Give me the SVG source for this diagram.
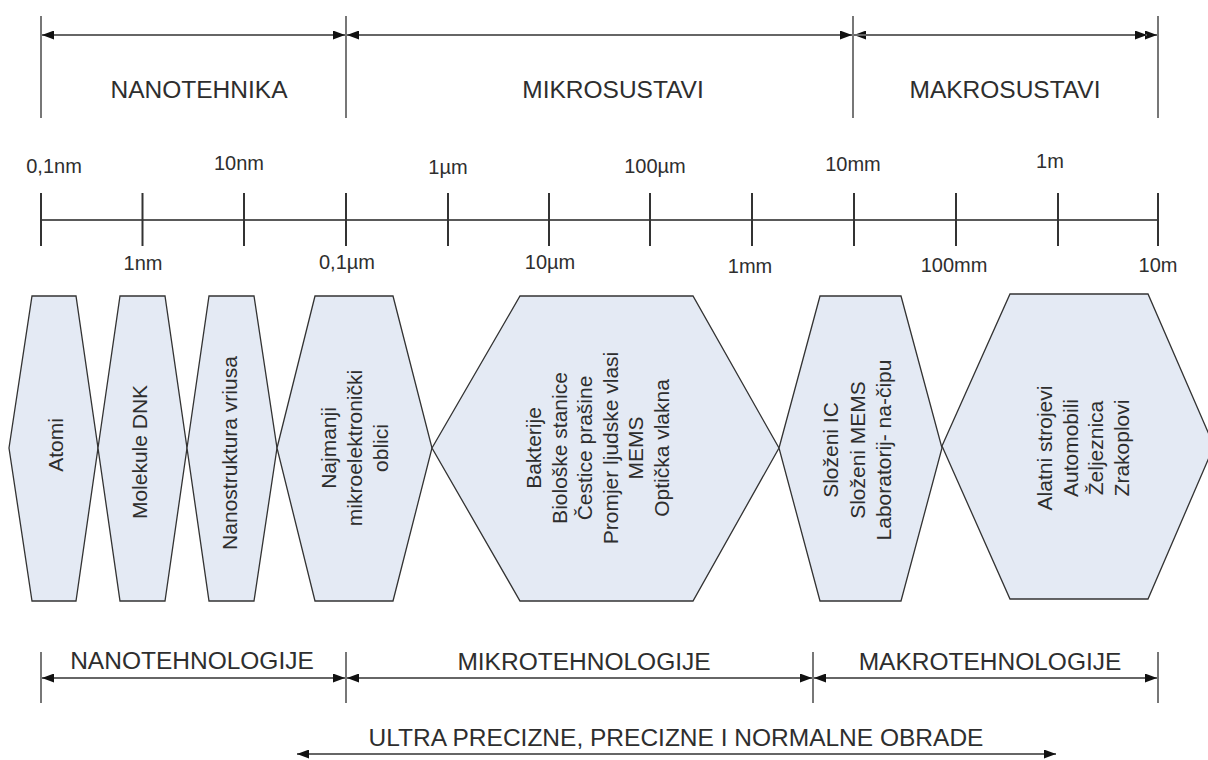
<svg xmlns="http://www.w3.org/2000/svg" width="1208" height="760" viewBox="0 0 1208 760">
<style>
  text { font-family: "Liberation Sans", Arial, sans-serif; fill: #2e2e2e; }
  .sec { font-size: 24.5px; text-anchor: middle; }
  .sc { font-size: 20px; text-anchor: middle; }
  .hx { font-size: 21px; text-anchor: middle; }
  .hex { fill: #e4eaf4; stroke: #333; stroke-width: 1.3; stroke-linejoin: miter; }
  .bar { stroke: #777; stroke-width: 2; }
  .arr { stroke: #666; stroke-width: 2.2; fill: none; marker-start: url(#ah); marker-end: url(#ah); }
  .axis { stroke: #222; stroke-width: 1.6; }
  .tick { stroke: #333; stroke-width: 2; }
</style>
<defs>
  <marker id="ah" viewBox="0 0 12 9" refX="12" refY="4.5" markerWidth="12" markerHeight="9" markerUnits="userSpaceOnUse" orient="auto-start-reverse">
    <path d="M0,0 L12,4.5 L0,9 z" fill="#111"/>
  </marker>
</defs>
<rect width="1208" height="760" fill="#fff"/>

<!-- top section dividers -->
<g id="top-bars">
  <line class="bar" x1="41" y1="16" x2="41" y2="118"/>
  <line class="bar" x1="346" y1="16" x2="346" y2="118"/>
  <line class="bar" x1="853" y1="16" x2="853" y2="118"/>
  <line class="bar" x1="1158" y1="16" x2="1158" y2="118"/>
</g>
<g id="bottom-bars">
  <line class="bar" x1="41" y1="652" x2="41" y2="703"/>
  <line class="bar" x1="346" y1="652" x2="346" y2="703"/>
  <line class="bar" x1="813" y1="652" x2="813" y2="703"/>
  <line class="bar" x1="1158" y1="652" x2="1158" y2="703"/>
</g>

<g id="connectors">
  <line class="arr" x1="42" y1="35" x2="345" y2="35"/>
  <line class="arr" x1="347" y1="35" x2="852" y2="35"/>
  <line class="arr" x1="854" y1="35" x2="1157" y2="35"/>
  <line class="arr" x1="854" y1="35" x2="1147" y2="35" style="marker-start:none"/>
  <line class="arr" x1="42" y1="678" x2="345" y2="678"/>
  <line class="arr" x1="347" y1="678" x2="812" y2="678"/>
  <line class="arr" x1="814" y1="678" x2="1157" y2="678"/>
  <line class="arr" x1="297" y1="754" x2="1056" y2="754"/>
</g>

<g id="section-labels">
  <text class="sec" x="199" y="98">NANOTEHNIKA</text>
  <text class="sec" x="613" y="98">MIKROSUSTAVI</text>
  <text class="sec" x="1005" y="98">MAKROSUSTAVI</text>
  <text class="sec" x="192" y="669">NANOTEHNOLOGIJE</text>
  <text class="sec" x="584" y="670">MIKROTEHNOLOGIJE</text>
  <text class="sec" x="990" y="670">MAKROTEHNOLOGIJE</text>
  <text class="sec" x="676" y="746">ULTRA PRECIZNE, PRECIZNE I NORMALNE OBRADE</text>
</g>

<g id="scale">
  <line class="axis" x1="41" y1="220" x2="1158" y2="220"/>
  <line class="tick" x1="41" y1="193" x2="41" y2="246"/>
  <line class="tick" x1="142.5" y1="193" x2="142.5" y2="246"/>
  <line class="tick" x1="244" y1="193" x2="244" y2="246"/>
  <line class="tick" x1="346" y1="193" x2="346" y2="246"/>
  <line class="tick" x1="448" y1="193" x2="448" y2="246"/>
  <line class="tick" x1="549" y1="193" x2="549" y2="246"/>
  <line class="tick" x1="650" y1="193" x2="650" y2="246"/>
  <line class="tick" x1="752" y1="193" x2="752" y2="246"/>
  <line class="tick" x1="854" y1="193" x2="854" y2="246"/>
  <line class="tick" x1="956" y1="193" x2="956" y2="246"/>
  <line class="tick" x1="1058" y1="193" x2="1058" y2="246"/>
  <line class="tick" x1="1158" y1="193" x2="1158" y2="246"/>
  <text class="sc" x="54" y="173">0,1nm</text>
  <text class="sc" x="239" y="170">10nm</text>
  <text class="sc" x="448" y="174">1µm</text>
  <text class="sc" x="655" y="173">100µm</text>
  <text class="sc" x="853" y="171">10mm</text>
  <text class="sc" x="1050" y="168">1m</text>
  <text class="sc" x="143" y="270">1nm</text>
  <text class="sc" x="347" y="269">0,1µm</text>
  <text class="sc" x="550" y="269">10µm</text>
  <text class="sc" x="750" y="273">1mm</text>
  <text class="sc" x="954" y="272">100mm</text>
  <text class="sc" x="1158" y="272">10m</text>
</g>

<g id="hex-atomi">
  <polygon class="hex" points="9,448 32,296 76,296 98,448 76,601 32,601"/>
  <text class="hx" transform="translate(63,445) rotate(-90)">Atomi</text>
</g>
<g id="hex-dnk">
  <polygon class="hex" points="98,448 120,296 165,296 187,448 165,601 120,601"/>
  <text class="hx" transform="translate(147,452) rotate(-90)">Molekule DNK</text>
</g>
<g id="hex-virus">
  <polygon class="hex" points="187,448 209,296 254,296 277,448 254,601 209,601"/>
  <text class="hx" transform="translate(237,453) rotate(-90)">Nanostruktura vriusa</text>
</g>
<g id="hex-mikroel">
  <polygon class="hex" points="277,448 315,296 393,296 432,448 393,601 315,601"/>
  <text class="hx" transform="translate(336,448) rotate(-90)">Najmanji</text>
  <text class="hx" transform="translate(362,448) rotate(-90)">mikroelektronički</text>
  <text class="hx" transform="translate(388,448) rotate(-90)">oblici</text>
</g>
<g id="hex-bakterije">
  <polygon class="hex" points="432,448 520,296 693,296 779,448 693,601 520,601"/>
  <text class="hx" transform="translate(541,448) rotate(-90)">Bakterije</text>
  <text class="hx" transform="translate(566.5,448) rotate(-90)">Biološke stanice</text>
  <text class="hx" transform="translate(592,448) rotate(-90)">Čestice prašine</text>
  <text class="hx" transform="translate(617.5,448) rotate(-90)">Promjer ljudske vlasi</text>
  <text class="hx" transform="translate(643,448) rotate(-90)">MEMS</text>
  <text class="hx" transform="translate(668.5,448) rotate(-90)">Optička vlakna</text>
</g>
<g id="hex-ic">
  <polygon class="hex" points="779,448 820,296 901,296 942,448 901,601 820,601"/>
  <text class="hx" transform="translate(838,450) rotate(-90)">Složeni IC</text>
  <text class="hx" transform="translate(865,450) rotate(-90)">Složeni MEMS</text>
  <text class="hx" transform="translate(891,450) rotate(-90)">Laboratorij- na-čipu</text>
</g>
<g id="hex-makro">
  <polygon class="hex" points="942,446 1010,294 1148,294 1214,446 1148,599 1010,599"/>
  <text class="hx" transform="translate(1052,448) rotate(-90)">Alatni strojevi</text>
  <text class="hx" transform="translate(1077.5,448) rotate(-90)">Automobili</text>
  <text class="hx" transform="translate(1103,448) rotate(-90)">Željeznica</text>
  <text class="hx" transform="translate(1128.5,448) rotate(-90)">Zrakoplovi</text>
</g>
</svg>
